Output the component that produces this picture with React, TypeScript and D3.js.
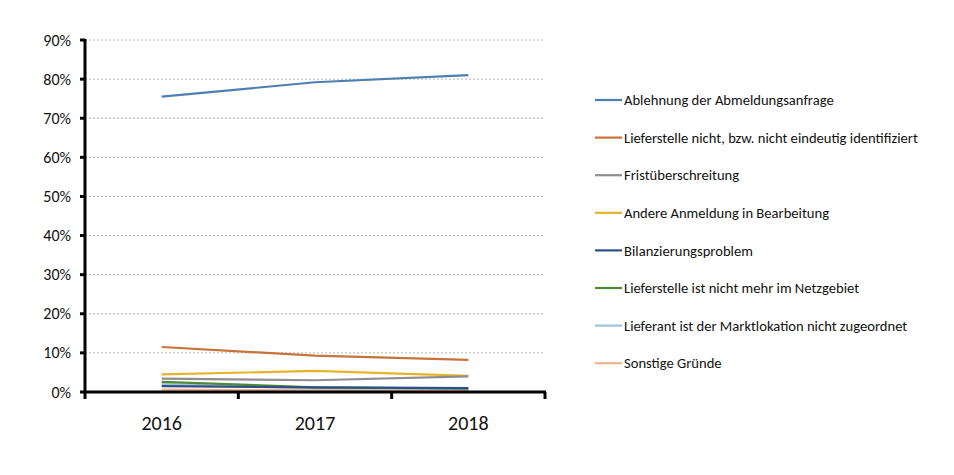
import React from "react";
import * as d3 from "d3";

const years = ["2016", "2017", "2018"];
const yTicks = [0, 0.1, 0.2, 0.3, 0.4, 0.5, 0.6, 0.7, 0.8, 0.9];
const seriesNames = [
  "Ablehnung der Abmeldungsanfrage",
  "Lieferstelle nicht, bzw. nicht eindeutig identifiziert",
  "Fristüberschreitung",
  "Andere Anmeldung in Bearbeitung",
  "Bilanzierungsproblem",
  "Lieferstelle ist nicht mehr im Netzgebiet",
  "Lieferant ist der Marktlokation nicht zugeordnet",
  "Sonstige Gründe",
];
const ablehnung = [0.755, 0.792, 0.81];
const lieferstelleNicht = [0.115, 0.093, 0.082];
const frist = [0.034, 0.03, 0.04];
const andere = [0.045, 0.054, 0.041];
const bilanzierung = [0.015, 0.012, 0.01];
const netzgebiet = [0.026, 0.012, 0.009];
const marktlokation = [0.02, 0.01, 0.008];
const sonstige = [0.006, 0.004, 0.004];
const seriesValues = [ablehnung, lieferstelleNicht, frist, andere, bilanzierung, netzgebiet, marktlokation, sonstige];
const colors = ["#4F7FAF", "#C8733A", "#8E8E8E", "#E6B42A", "#2F4F86", "#4E8A34", "#9CC3DE", "#F0B48E"];

export default function App() {
  const W = 954, H = 475;
  const left = 85, right = 545, top = 40, bottom = 392;
  const x = d3.scaleBand<string>().domain(years).range([left, right]);
  const y = d3.scaleLinear().domain([0, 0.9]).range([bottom, top]);
  const line = d3
    .line<number>()
    .x((_, i) => (x(years[i]) as number) + x.bandwidth() / 2)
    .y((d) => y(d));
  const font = "Calibri, Carlito, Lato, sans-serif";
  const legendY0 = 100, legendStep = 37.6;
  const drawOrder = [7, 6, 5, 4, 3, 2, 1, 0];
  return (
    <svg width={W} height={H} style={{ position: "absolute", left: 0, top: 0, background: "#fff" }}>
      <rect width={W} height={H} fill="#fff" />
      {yTicks.map((t) =>
        t > 0 ? (
          <line key={"g" + t} x1={left} x2={right} y1={y(t)} y2={y(t)} stroke="#B4B4B4" strokeWidth={1} strokeDasharray="2,2" />
        ) : null
      )}
      {drawOrder.map((si) => (
        <path key={"s" + si} d={line(seriesValues[si]) as string} fill="none" stroke={colors[si]} strokeWidth={2.2} />
      ))}
      <line x1={left} x2={left} y1={top - 1} y2={bottom + 1} stroke="#000" strokeWidth={3} />
      <line x1={left - 1.5} x2={right + 1} y1={bottom} y2={bottom} stroke="#000" strokeWidth={3} />
      {yTicks.map((t) => (
        <g key={"t" + t}>
          <line x1={left - 5} x2={left} y1={y(t)} y2={y(t)} stroke="#000" strokeWidth={3} />
          <text x={71} y={y(t)} dy="0.35em" textAnchor="end" fontFamily={font} fontSize={16} fontWeight={300} fill="#111">
            {Math.round(t * 100) + "%"}
          </text>
        </g>
      ))}
      {[...years.map((yr) => x(yr) as number), right].map((p, i) => (
        <line key={"xt" + i} x1={p} x2={p} y1={bottom} y2={bottom + 7} stroke="#000" strokeWidth={3} />
      ))}
      {years.map((yr) => (
        <text key={"xl" + yr} x={(x(yr) as number) + x.bandwidth() / 2} y={430} textAnchor="middle" fontFamily={font} fontSize={20} fontWeight={300} fill="#111">
          {yr}
        </text>
      ))}
      {seriesNames.map((n, i) => (
        <g key={"l" + i}>
          <line x1={595} x2={622} y1={legendY0 + i * legendStep} y2={legendY0 + i * legendStep} stroke={colors[i]} strokeWidth={2.2} />
          <text x={624} y={legendY0 + i * legendStep} dy="0.35em" fontFamily={font} fontSize={14.6} fontWeight={300} fill="#111">
            {n}
          </text>
        </g>
      ))}
    </svg>
  );
}
